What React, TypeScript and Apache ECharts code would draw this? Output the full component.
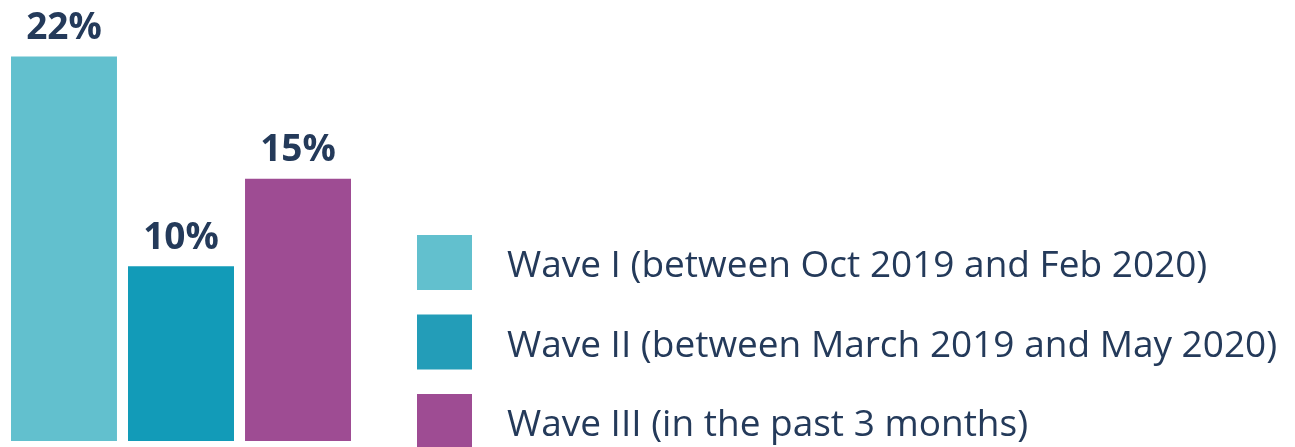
import React, { useEffect, useRef } from "react";
import * as echarts from "echarts";

const categories = ["All"];
const seriesNames = [
  "Wave I (between Oct 2019 and Feb 2020)",
  "Wave II (between March 2019 and May 2020)",
  "Wave III (in the past 3 months)",
];
const seriesValues = [22, 10, 15];
const barColors = ["#62C0CE", "#129BB8", "#9E4C93"];
const legendColors = ["#62C0CE", "#239DB8", "#9E4C93"];

export default function App() {
  const ref = useRef<HTMLDivElement>(null);
  useEffect(() => {
    if (!ref.current) return;
    const chart = echarts.init(ref.current, null, { renderer: "svg" });
    const textColor = "#243A5A";
    chart.setOption({
      animation: false,
      grid: { left: 11, top: 4, width: 340, bottom: 6, containLabel: false },
      xAxis: {
        type: "category",
        data: categories,
        show: false,
      },
      yAxis: { type: "value", min: 0, max: 25, show: false },
      legend: {
        orient: "vertical",
        left: 417,
        top: 235,
        height: 400,
        padding: 0,
        itemWidth: 55,
        itemHeight: 55,
        itemGap: 24.5,
        icon: "rect",
        textStyle: {
          fontFamily: "Open Sans",
          fontSize: 37,
          color: textColor,
          padding: [0, 0, 0, 30],
        },
        data: seriesNames.map((n, i) => ({
          name: n,
          itemStyle: { color: legendColors[i] },
        })),
      },
      series: seriesNames.map((n, i) => ({
        name: n,
        type: "bar",
        data: [seriesValues[i]],
        barWidth: 106,
        barGap: "10.4%",
        itemStyle: { color: barColors[i] },
        label: {
          show: true,
          position: "top",
          distance: 12,
          formatter: "{c}%",
          fontFamily: "Open Sans",
          fontWeight: "bold",
          fontSize: 37,
          lineHeight: 40,
          color: textColor,
        },
      })),
    });
    return () => chart.dispose();
  }, []);
  return (
    <div
      ref={ref}
      style={{ position: "fixed", left: 0, top: 0, width: 1295, height: 447 }}
    />
  );
}
